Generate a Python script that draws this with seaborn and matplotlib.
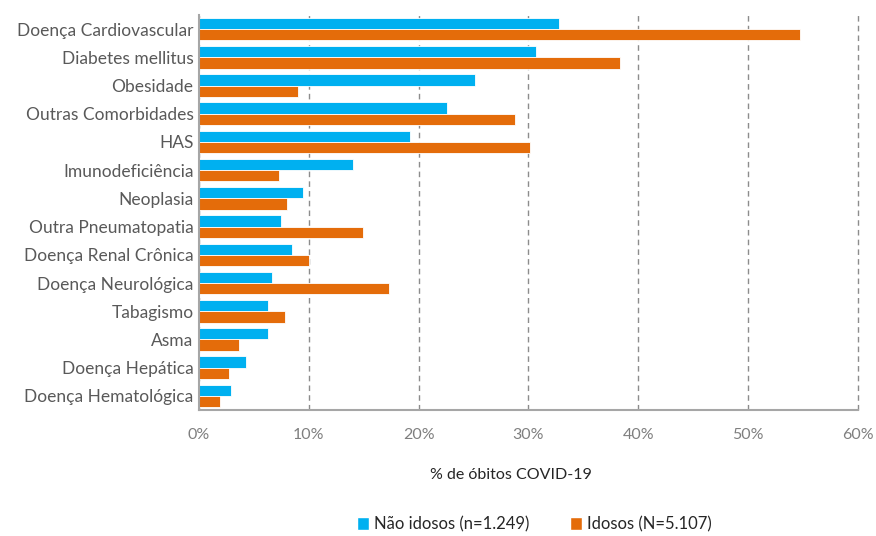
import matplotlib
matplotlib.use("Agg")
import matplotlib.pyplot as plt
import seaborn as sns
import pandas as pd
from matplotlib.ticker import FuncFormatter, MultipleLocator
from matplotlib.patches import Patch

categories = ["Doença Cardiovascular", "Diabetes mellitus", "Obesidade", "Outras Comorbidades",
              "HAS", "Imunodeficiência", "Neoplasia", "Outra Pneumatopatia",
              "Doença Renal Crônica", "Doença Neurológica", "Tabagismo", "Asma",
              "Doença Hepática", "Doença Hematológica"]
nao_idosos = [32.8, 30.7, 25.1, 22.6, 19.2, 14.0, 9.5, 7.5, 8.5, 6.6, 6.3, 6.3, 4.3, 2.9]
idosos = [54.7, 38.3, 9.0, 28.8, 30.1, 7.3, 8.0, 14.9, 10.0, 17.3, 7.8, 3.6, 2.7, 1.9]
series_names = ["Não idosos (n=1.249)", "Idosos (N=5.107)"]
colors = ["#00B0F0", "#E46C0A"]

df = pd.DataFrame({
    "cat": categories * 2,
    "val": nao_idosos + idosos,
    "grupo": [series_names[0]] * len(categories) + [series_names[1]] * len(categories),
})

sns.set_theme(style="white")
plt.rcParams["font.family"] = ["Lato", "DejaVu Sans"]

fig = plt.figure(figsize=(8.76, 5.36), dpi=100)
ax = fig.add_axes([0.2272, 0.235, 0.7522, 0.737])
sns.barplot(data=df, y="cat", x="val", hue="grupo", palette=colors, order=categories,
            hue_order=series_names, orient="h", width=0.8, ax=ax, legend=False,
            saturation=1, edgecolor="white", linewidth=0.6)

ax.set_xlim(0, 60)
ax.xaxis.set_major_locator(MultipleLocator(10))
ax.xaxis.set_major_formatter(FuncFormatter(lambda v, p: f"{v:.0f}%"))
ax.grid(axis="x", linestyle=(0, (4, 3)), color="#8c8c8c", linewidth=1.0)
ax.grid(axis="y", visible=False)
for gl in ax.get_xgridlines():
    gl.set_clip_on(False)
ax.set_axisbelow(True)
for s in ["top", "right"]:
    ax.spines[s].set_visible(False)
for s in ["left", "bottom"]:
    ax.spines[s].set_color("#a6a6a6")
    ax.spines[s].set_linewidth(1.5)
ax.set_xlabel("")
ax.set_ylabel("")
ax.tick_params(axis="x", colors="#7f7f7f", labelsize=11.5, pad=13, length=0)
ax.tick_params(axis="y", colors="#595959", labelsize=12.5, pad=4, length=0)
for t in ax.get_yticklabels():
    t.set_color("#595959")

fig.text(0.583, 0.114, "% de óbitos COVID-19", ha="center", va="center",
         fontsize=11.5, color="#262626")

handles = [Patch(facecolor=colors[0]), Patch(facecolor=colors[1])]
leg = fig.legend(handles, series_names, loc="center", bbox_to_anchor=(0.61, 0.022), ncol=2,
                 frameon=False, handlelength=0.75, handleheight=0.75, handletextpad=0.3,
                 columnspacing=2.4, fontsize=12)
for t in leg.get_texts():
    t.set_color("#262626")

fig.savefig("out.png", dpi=100)
